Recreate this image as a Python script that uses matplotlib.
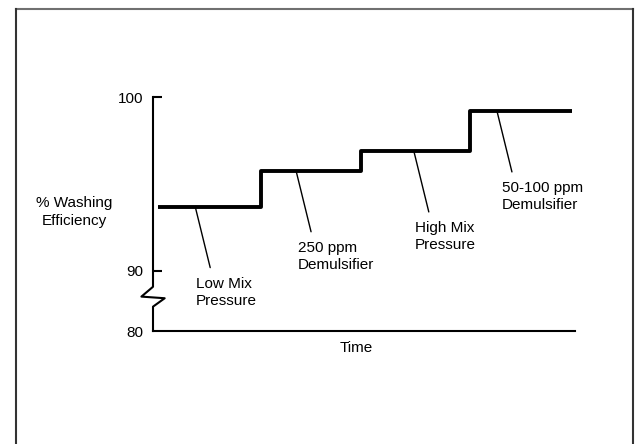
#!/usr/bin/env python3

import numpy as np
from matplotlib import pyplot as plt
from matplotlib.lines import Line2D

plt.rcParams['font.family'] = ['Liberation Sans', 'DejaVu Sans']

# step changes in washing efficiency over time
times = [0.12, 2.56, 4.93, 7.5, 9.93]
efficiency = [93.7, 95.76, 96.9, 99.2, 99.2]

# labels for each step, pinned to a time on the step
labels = ['Low Mix\nPressure', '250 ppm\nDemulsifier',
          'High Mix\nPressure', '50-100 ppm\nDemulsifier']
label_times = [1.0, 3.39, 6.18, 8.15]
label_levels = [93.7, 95.76, 96.9, 99.2]
label_shift = [1, 2, 1, 5]

yticks = [80, 90, 100]

# squeeze everything below 90 so the break fits
k = 0.345
def fwd(y):
    y = np.asarray(y, dtype=float)
    return np.where(y >= 90, y, 90 - (90 - y) * k)

def inv(y):
    y = np.asarray(y, dtype=float)
    return np.where(y >= 90, y, 90 - (90 - y) / k)

fs = 11

fig = plt.figure(figsize=(6.38, 4.44), dpi=100)
ax = fig.add_axes([153/638, 1 - 331/444, 422/638, 234/444])

ax.plot(times, efficiency, drawstyle='steps-post', color='black',
        lw=2.8, solid_capstyle='butt')

for txt, t, lev, sh in zip(labels, label_times, label_levels, label_shift):
    ax.annotate('', xy=(t, lev), xytext=(15, -61), textcoords='offset pixels',
                arrowprops=dict(arrowstyle='-', lw=1.0, color='black',
                                shrinkA=0, shrinkB=0))
    ax.annotate(txt, xy=(t, lev), xytext=(sh, -70), textcoords='offset pixels',
                ha='left', va='top', fontsize=fs, linespacing=1.32)

ax.set_yscale('function', functions=(fwd, inv))
ax.set_xlim(0, 10)
ax.set_ylim(80, 100)
ax.set_yticks(yticks)
ax.set_yticklabels([str(v) for v in yticks])
ax.set_xticks([])

for s in ['top', 'right', 'left']:
    ax.spines[s].set_visible(False)
ax.spines['bottom'].set_linewidth(1.5)

ax.tick_params(axis='y', direction='in', length=6.5, width=1.5,
               labelsize=fs, pad=7)
ax.yaxis.get_major_ticks()[0].tick1line.set_visible(False)

# y axis with the zigzag break
zx = [0, 0, 0.0277, -0.0275, 0, 0]
zy = [0, 0.104, 0.140, 0.147, 0.189, 1]
ax.add_line(Line2D(zx, zy, transform=ax.transAxes, color='black',
                   lw=1.5, clip_on=False))

ax.set_ylabel('% Washing\nEfficiency', rotation=0, fontsize=fs,
              ha='center', va='center', multialignment='center',
              linespacing=1.32)
ax.yaxis.set_label_coords(-0.187, 0.508)
ax.set_xlabel('Time', fontsize=fs, va='center')
ax.xaxis.set_label_coords(0.481, -0.073)

# page frame
fig.add_artist(Line2D([0.0246, 0.9926], [0.9804, 0.9804], color='#707070', lw=1.5))
fig.add_artist(Line2D([0.0246, 0.0246], [0, 0.9804], color='#333333', lw=1.5))
fig.add_artist(Line2D([0.9926, 0.9926], [0, 0.9804], color='#333333', lw=1.5))

plt.savefig('out.png', dpi=100)
